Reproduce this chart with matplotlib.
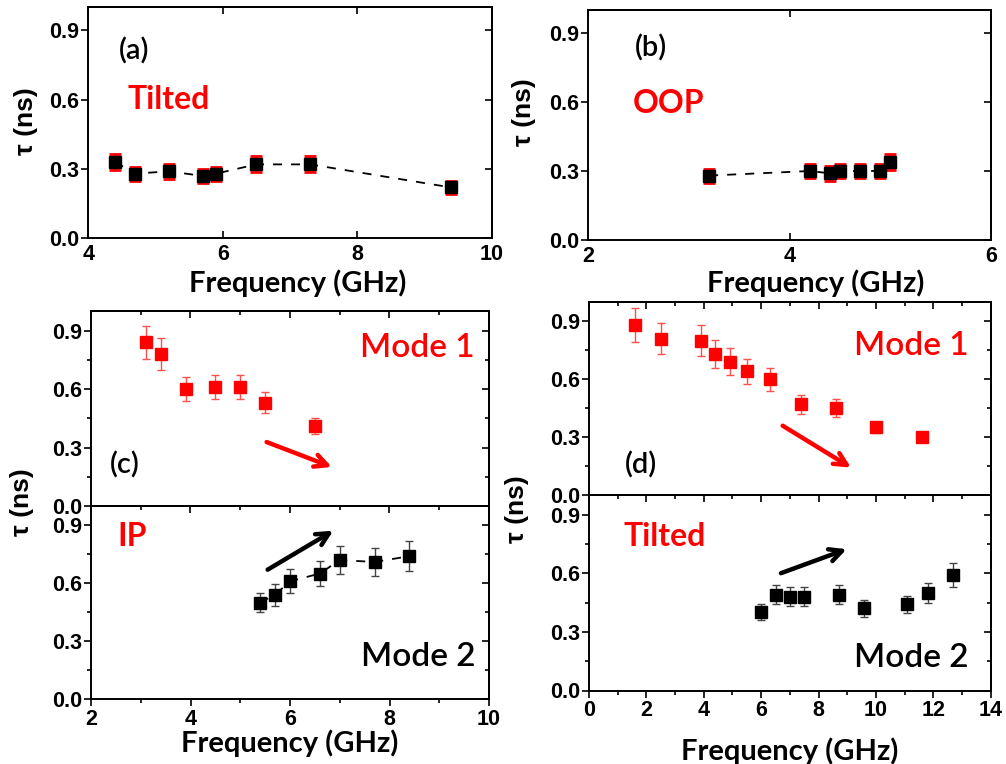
import matplotlib
matplotlib.use("Agg")
import matplotlib.pyplot as plt
from matplotlib.ticker import MultipleLocator

# ---------------- data ----------------
# (a) Tilted
a_freq = [4.4, 4.7, 5.2, 5.7, 5.9, 6.5, 7.3, 9.4]
a_tau = [0.33, 0.28, 0.29, 0.27, 0.28, 0.32, 0.32, 0.22]
a_err = [0.036, 0.03, 0.032, 0.03, 0.03, 0.035, 0.035, 0.028]
# (b) OOP
b_freq = [3.2, 4.2, 4.4, 4.5, 4.7, 4.9, 5.0]
b_tau = [0.28, 0.30, 0.29, 0.30, 0.30, 0.30, 0.34]
b_err = [0.03, 0.032, 0.032, 0.032, 0.03, 0.03, 0.035]
# (c) IP, mode 1 and mode 2
c1_freq = [3.1, 3.4, 3.9, 4.5, 5.0, 5.5, 6.5]
c1_tau = [0.84, 0.78, 0.60, 0.61, 0.61, 0.53, 0.41]
c1_err = [0.085, 0.08, 0.06, 0.06, 0.06, 0.055, 0.04]
c2_freq = [5.4, 5.7, 6.0, 6.6, 7.0, 7.7, 8.4]
c2_tau = [0.50, 0.54, 0.61, 0.65, 0.72, 0.71, 0.74]
c2_err = [0.05, 0.056, 0.062, 0.067, 0.072, 0.074, 0.078]
# (d) Tilted, mode 1 and mode 2
d1_freq = [1.6, 2.5, 3.9, 4.4, 4.9, 5.5, 6.3, 7.4, 8.6, 10.0, 11.6]
d1_tau = [0.88, 0.81, 0.80, 0.73, 0.69, 0.64, 0.60, 0.47, 0.45, 0.35, 0.30]
d1_err = [0.088, 0.08, 0.08, 0.074, 0.07, 0.064, 0.06, 0.049, 0.046, 0.03, 0.015]
d2_freq = [6.0, 6.5, 7.0, 7.5, 8.7, 9.6, 11.1, 11.8, 12.7]
d2_tau = [0.40, 0.49, 0.48, 0.48, 0.49, 0.42, 0.44, 0.50, 0.59]
d2_err = [0.04, 0.05, 0.05, 0.05, 0.05, 0.042, 0.044, 0.05, 0.06]

yticks = [0.0, 0.3, 0.6, 0.9]
xlabel = "Frequency (GHz)"
ylabel = "τ (ns)"

W, H = 1006, 764
fig = plt.figure(figsize=(W / 100, H / 100), dpi=100)

TICKFONT = "Liberation Sans"
LBLFONT = "Lato"
TICKSIZE = 15.5


def rect(l, t, r, b):
    return [l / W, 1 - b / H, (r - l) / W, (b - t) / H]


def style(ax, xlim, xmaj, xminor=None, ylim=(0, 1.0), show_xlabels=True,
          bottom_out=False, show_bottom=True, show_top=True):
    ax.set_xlim(*xlim)
    ax.set_ylim(*ylim)
    ax.xaxis.set_major_locator(MultipleLocator(xmaj))
    ax.set_yticks(yticks)
    if xminor:
        ax.xaxis.set_minor_locator(MultipleLocator(xminor))
        ax.yaxis.set_minor_locator(MultipleLocator(0.15))
    for s in ax.spines.values():
        s.set_linewidth(1.4)
    ax.tick_params(axis="y", which="both", left=True, right=False,
                   direction="out", width=1.2, labelsize=TICKSIZE, pad=1.5)
    ax.tick_params(axis="y", which="major", length=5)
    ax.tick_params(axis="y", which="minor", length=3)
    sec = ax.secondary_yaxis("right")
    sec.set_yticks(yticks)
    sec.tick_params(axis="y", which="both", direction="in", width=1.2,
                    labelright=False, length=5)
    if xminor:
        sec.yaxis.set_minor_locator(MultipleLocator(0.15))
        sec.tick_params(axis="y", which="minor", length=3)
    sec.spines["right"].set_linewidth(1.4)
    ax.tick_params(axis="x", which="both", bottom=show_bottom, top=False,
                   direction="out" if bottom_out else "in", width=1.2,
                   labelsize=TICKSIZE, labelbottom=show_xlabels,
                   pad=2 if bottom_out else 4)
    ax.tick_params(axis="x", which="major", length=5)
    ax.tick_params(axis="x", which="minor", length=3)
    if show_top:
        secx = ax.secondary_xaxis("top")
        secx.xaxis.set_major_locator(MultipleLocator(xmaj))
        if xminor:
            secx.xaxis.set_minor_locator(MultipleLocator(xminor))
        secx.tick_params(axis="x", which="both", direction="in", width=1.2,
                         labeltop=False)
        secx.tick_params(axis="x", which="major", length=5)
        secx.tick_params(axis="x", which="minor", length=3)
        secx.spines["top"].set_linewidth(1.4)
    for lab in ax.get_xticklabels() + ax.get_yticklabels():
        lab.set_fontfamily(TICKFONT)
        lab.set_fontweight("bold")
        lab.set_fontsize(TICKSIZE)


def label_text(ax, x, y, s, ha="left", color="red", size=23, weight="bold"):
    ax.text(x, y, s, color=color, fontsize=size, fontfamily=LBLFONT,
            fontweight=weight, ha=ha, va="center")


def arrow(ax, x0, y0, x1, y1, color):
    ax.annotate("", xy=(x1, y1), xytext=(x0, y0),
                arrowprops=dict(arrowstyle="->,head_length=0.9,head_width=0.45",
                                color=color, lw=3.2, shrinkA=0, shrinkB=0))


def xlab(x, y, s=xlabel):
    fig.text(x / W, 1 - y / H, s, fontsize=21, fontfamily=LBLFONT,
             fontweight="bold", ha="center", va="center")


def ylab(x, y, s=ylabel):
    fig.text(x / W, 1 - y / H, s, fontsize=19, fontfamily=TICKFONT,
             fontweight="bold", ha="center", va="center", rotation=90)


def panel_tag(ax, x, y, s):
    ax.text(x, y, s, fontsize=21, fontfamily=LBLFONT, fontweight="semibold",
            ha="left", va="center")


# ---------------- (a) ----------------
ax = fig.add_axes(rect(88.3, 7.3, 491.7, 238.3))
ax.plot(a_freq, a_tau, ls=(0, (5, 5)), color="black", lw=1.3, zorder=1)
ax.errorbar(a_freq, a_tau, yerr=a_err, fmt="s", color="black", ms=9,
            ecolor="red", elinewidth=1.5, capsize=4.5, capthick=2, zorder=2)
style(ax, (4, 10), 2)
panel_tag(ax, 4.46, 0.81, "(a)")
label_text(ax, 4.59, 0.60, "Tilted")
xlab(298, 283)
ylab(26, 121)

# ---------------- (b) ----------------
ax = fig.add_axes(rect(588.3, 10, 991, 240))
ax.plot(b_freq, b_tau, ls=(0, (5, 5)), color="black", lw=1.3, zorder=1)
ax.errorbar(b_freq, b_tau, yerr=b_err, fmt="s", color="black", ms=9,
            ecolor="red", elinewidth=1.5, capsize=4.5, capthick=2, zorder=2)
style(ax, (2, 6), 2)
panel_tag(ax, 2.46, 0.835, "(b)")
label_text(ax, 2.44, 0.595, "OOP")
xlab(816, 283)
ylab(524, 112)

# ---------------- (c) ----------------
ax = fig.add_axes(rect(91, 311, 489, 506))
ax.errorbar(c1_freq, c1_tau, yerr=c1_err, fmt="s", color="red", ms=9,
            ecolor="#ff5050", elinewidth=1.0, capsize=3, capthick=1.0)
style(ax, (2, 10), 2, 1, show_xlabels=False, show_bottom=False)
label_text(ax, 9.72, 0.81, "Mode 1", ha="right", weight="semibold", size=24)
panel_tag(ax, 2.38, 0.21, "(c)")
arrow(ax, 5.53, 0.328, 6.84, 0.20, "red")

ax = fig.add_axes(rect(91, 506, 489, 699))
ax.plot(c2_freq, c2_tau, ls=(0, (5, 5)), color="black", lw=1.3, zorder=1)
ax.errorbar(c2_freq, c2_tau, yerr=c2_err, fmt="s", color="black", ms=9,
            ecolor="#444444", elinewidth=1.0, capsize=3, capthick=1.0, zorder=2)
style(ax, (2, 10), 2, 1, bottom_out=True)
label_text(ax, 2.54, 0.84, "IP")
label_text(ax, 9.72, 0.218, "Mode 2", ha="right", color="black",
           weight="semibold", size=24)
arrow(ax, 5.55, 0.67, 6.87, 0.872, "black")
xlab(290, 743)
ylab(22, 502)

# ---------------- (d) ----------------
ax = fig.add_axes(rect(589, 302, 990.7, 495))
ax.errorbar(d1_freq, d1_tau, yerr=d1_err, fmt="s", color="red", ms=9,
            ecolor="#ff5050", elinewidth=1.0, capsize=3, capthick=1.0)
style(ax, (0, 14), 2, 1, show_xlabels=False, show_bottom=False)
label_text(ax, 13.22, 0.77, "Mode 1", ha="right", weight="semibold", size=24)
panel_tag(ax, 1.25, 0.154, "(d)")
arrow(ax, 6.75, 0.359, 9.13, 0.142, "red")

ax = fig.add_axes(rect(589, 495, 990.7, 690.5))
ax.errorbar(d2_freq, d2_tau, yerr=d2_err, fmt="s", color="black", ms=9,
            ecolor="#444444", elinewidth=1.0, capsize=3, capthick=1.0)
style(ax, (0, 14), 2, 1, bottom_out=True)
label_text(ax, 1.19, 0.787, "Tilted")
label_text(ax, 13.21, 0.168, "Mode 2", ha="right", color="black",
           weight="semibold", size=24)
arrow(ax, 6.69, 0.60, 8.98, 0.723, "black")
xlab(790, 751)
ylab(517, 509)

fig.savefig("out.png", dpi=100)
